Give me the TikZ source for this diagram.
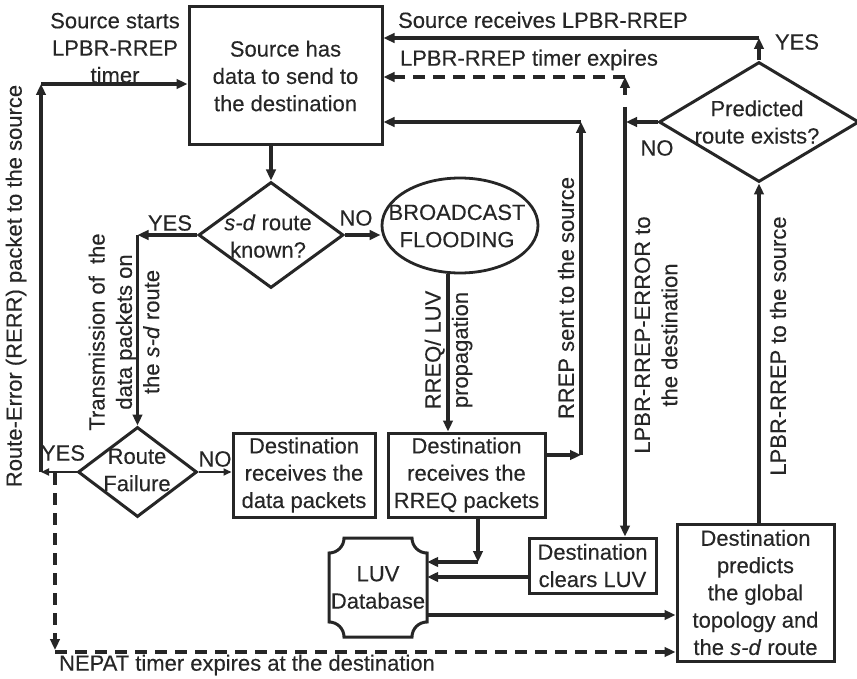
\documentclass[tikz,border=0pt]{standalone}
\usepackage{fontspec}
\setmainfont{Liberation Sans}[FakeBold=0.2]
\usetikzlibrary{shapes.geometric,arrows.meta,calc}
\definecolor{ink}{HTML}{262626}
\newcommand\fsz{\fontsize{22}{27.3}\selectfont}
\begin{document}
\begin{tikzpicture}[x=1pt,y=-1pt,
  every node/.style={text=ink,font=\fsz,inner sep=0pt,align=center},
  box/.style={draw=ink,line width=3pt,rectangle},
  dia/.style={draw=ink,line width=3pt,diamond},
  ell/.style={draw=ink,line width=2.8pt,ellipse},
  rlbl/.style={rotate=90},
  arr/.style={draw=ink,line width=3.4pt,-{Triangle[length=11pt,width=9.5pt]}},
  thinarr/.style={draw=ink,line width=1.8pt,-{Triangle[length=8pt,width=7pt]}},
  dsh/.style={dash pattern=on 12pt off 8pt}]
\useasboundingbox (0,0) rectangle (857,679);
\fill[white] (0,0) rectangle (857,679);

% shapes
\node[box,minimum width=193pt,minimum height=138pt] (src) at (285.5,76)
  {Source has\\data to send to\\the destination};
\node[dia,minimum width=145pt,minimum height=106pt] (d1) at (271,235) {};
\node (d1t) at (268,236) {\textit{s-d} route\\known?};
\node[ell,minimum width=156pt,minimum height=95pt] (el) at (460,225.5) {};
\node (elt) at (457,226) {BROADCAST\\FLOODING};
\node[dia,minimum width=119pt,minimum height=90pt] (rf) at (137.5,472) {};
\node (rft) at (137,470) {Route\\Failure};
\node[box,minimum width=142pt,minimum height=84pt] (dd) at (304,475)
  {Destination\\receives the\\data packets};
\node[box,minimum width=157pt,minimum height=84pt] (dr) at (466.5,475)
  {Destination\\receives the\\RREQ packets};
\node[minimum width=98pt,minimum height=99pt] (luv) at (378,587.5) {LUV\\Database};
\draw[draw=ink,line width=3pt]
  (329,553) .. controls (337.3,553) and (344,546.3) .. (344,538)
  -- (412,538) .. controls (412,546.3) and (418.7,553) .. (427,553)
  -- (427,622) .. controls (418.7,622) and (412,628.7) .. (412,637)
  -- (344,637) .. controls (344,628.7) and (337.3,622) .. (329,622)
  -- cycle;
\node[box,minimum width=127pt,minimum height=55pt] (dc) at (592.5,565.5)
  {Destination\\clears LUV};
\node[box,minimum width=157pt,minimum height=137pt] (dp) at (755.5,592.5)
  {Destination\\predicts\\the global\\topology and\\the \textit{s-d} route};
\node[dia,minimum width=200pt,minimum height=120pt] (pr) at (759,122) {};
\node (prt) at (757,122) {Predicted\\route exists?};

% labels
\node (l1) at (115,48) {Source starts\\LPBR-RREP\\timer};
\node (l2) at (543,20) {Source receives LPBR-RREP};
\node (l3) at (529,60) {LPBR-RREP timer expires};
\node (l4) at (797,42) {YES};
\node (l5) at (657,148) {NO};
\node (l6) at (170,223) {YES};
\node (l7) at (356,218) {NO};
\node (l8) at (63,453) {YES};
\node (l9) at (215,459) {NO};
\node (l10) at (247,665) {NEPAT timer expires at the destination};
\node[rlbl] (r1) at (16,286) {Route-Error (RERR) packet to the source};
\node[rlbl] (r2) at (124,332) {Transmission of\ \ the\\data packets on\\the \textit{s-d} route};
\node[rlbl] (r3) at (448.5,350) {RREQ/ LUV\\propagation};
\node[rlbl] (r4) at (566,298) {RREP sent to the source};
\node[rlbl] (r5) at (656,335) {LPBR-RREP-ERROR to\\the destination};
\node[rlbl] (r6) at (778,346) {LPBR-RREP to the source};

% connectors
\draw[arr] (d1.north |- src.south) -- (d1.north);
\coordinate (cY) at (137.5,235);
\draw[arr] (d1.west) -- (cY);
\draw[arr] (cY) -- (rf.north);
\draw[arr] (d1.east) -- (d1.east -| el.west);
\coordinate (cB) at (448,0);
\draw[arr] (cB |- el.south) -- (cB |- dr.north);
\coordinate (cR1) at (581,455);
\coordinate (cR2) at (581,122);
\draw[arr] (dr.east |- cR1) -- (cR1);
\draw[arr] (cR1) -- (cR2);
\draw[arr] (cR2) -- (src.east |- cR2);
\coordinate (cS) at (759,38);
\draw[arr] (pr.north) -- (cS);
\draw[arr] (cS) -- (src.east |- cS);
\coordinate (cT1) at (625,95);
\coordinate (cT2) at (625,77);
\draw[arr] (cT1) -- (cT2);
\draw[arr,dsh] (cT2) -- (src.east |- cT2);
\coordinate (cN) at (626,122);
\draw[arr] (pr.west) -- (cN);
\coordinate (cE) at (625,107);
\draw[arr] (cE) -- (cE |- dc.north);
\coordinate (cD) at (529,577);
\draw[arr] (dc.west |- cD) -- (cD -| luv.east);
\coordinate (cQ) at (478,562);
\draw[arr] (cQ |- dr.south) -- (cQ);
\draw[arr] (cQ) -- (cQ -| luv.east);
\coordinate (cU) at (427,615);
\draw[arr] (luv.east |- cU) -- (cU -| dp.west);
\draw[arr] (pr.south |- dp.north) -- (pr.south);
\coordinate (cF) at (41,472);
\draw[thinarr] (rf.west) -- (cF);
\coordinate (cG) at (41,84);
\draw[arr] (cF) -- (cG);
\draw[arr] (cG) -- (cG -| src.west);
\draw[thinarr] (rf.east) -- (rf.east -| dd.west);
\coordinate (cV1) at (55,473);
\coordinate (cV2) at (55,650);
\draw[arr,dsh] (cV1) -- (cV2);
\coordinate (cV3) at (55,652);
\draw[arr,dsh] (cV3) -- (cV3 -| dp.west);
\end{tikzpicture}
\end{document}
